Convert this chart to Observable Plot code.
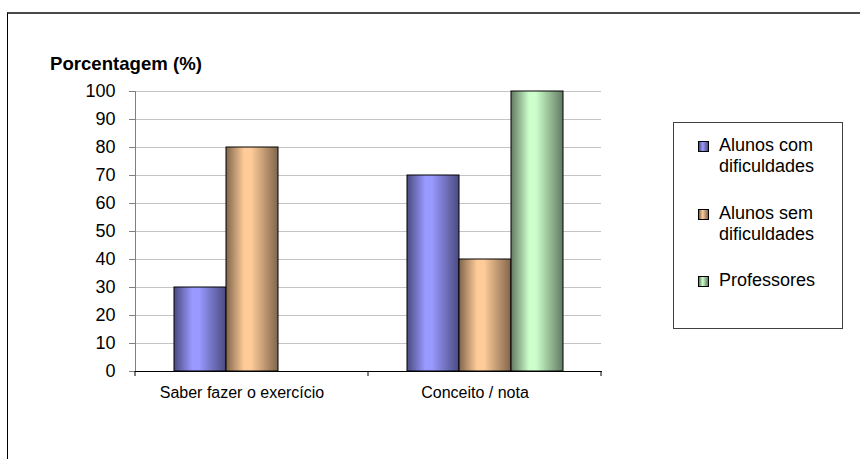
<!DOCTYPE html>
<html>
<head>
<meta charset="utf-8">
<script src="https://cdn.jsdelivr.net/npm/d3@7"></script>
<script src="https://cdn.jsdelivr.net/npm/@observablehq/plot@0.6"></script>
<style>
  html, body { margin: 0; padding: 0; background: #fff; }
  #wrap { position: relative; width: 860px; height: 459px; overflow: hidden; font-family: "Liberation Sans", Arial, sans-serif; color: #000; }
  #frame { position: absolute; left: 7px; top: 12px; width: 1000px; height: 600px; border-top: 2px solid #4a4a4a; border-left: 1px solid #000; box-sizing: border-box; }
  #title { position: absolute; left: 50px; top: 55px; font-size: 18.6px; line-height: 18px; font-weight: bold; white-space: nowrap; }
  #chart { position: absolute; left: 0; top: 0; }
  #legend { position: absolute; left: 673px; top: 122px; width: 170px; height: 207px; border: 1px solid #404040; box-sizing: border-box; background: #fff; }
  .item { position: absolute; left: 0; font-size: 18px; line-height: 21px; }
  .sw { position: absolute; width: 9px; height: 9px; border: 1px solid #000; box-sizing: content-box; }
  .txt { position: absolute; white-space: nowrap; }
</style>
</head>
<body>
<div id="wrap">
  <div id="frame"></div>
  <div id="chart"></div>
  <div id="title">Porcentagem (%)</div>
  <div id="legend"></div>
</div>
<script>
// ---- data ----
const categories = ["Saber fazer o exercício", "Conceito / nota"];
const series = ["Alunos com dificuldades", "Alunos sem dificuldades", "Professores"];
const legendLines = [["Alunos com", "dificuldades"], ["Alunos sem", "dificuldades"], ["Professores"]];
const alunosCom = [30, 70];
const alunosSem = [80, 40];
const professores = [0, 100];
const yTicks = [0, 10, 20, 30, 40, 50, 60, 70, 80, 90, 100];

// ---- styles ----
const lightColors = ["#9999ff", "#ffcc99", "#ccffcc"];
const darkColors = ["#4a4a80", "#80654b", "#627a62"];
const gradIds = ["gBlue", "gOrange", "gGreen"];

const seriesValues = [alunosCom, alunosSem, professores];
const data = categories.flatMap((c, i) =>
  series.map((s, j) => ({category: c, series: s, value: seriesValues[j][i]}))
);

const chart = Plot.plot({
  width: 860,
  height: 459,
  marginLeft: 135,
  marginRight: 259,
  marginTop: 91,
  marginBottom: 88,
  style: {fontFamily: '"Liberation Sans", Arial, sans-serif', background: "transparent", color: "#000"},
  fx: {domain: categories, padding: 0, label: null},
  x: {domain: series, paddingInner: 0, paddingOuter: 0.74, axis: null},
  y: {domain: [0, 100], label: null},
  color: {domain: series, range: gradIds.map(id => `url(#${id})`)},
  marks: [
    Plot.ruleY(yTicks.filter(t => t > 0), {y: d => d, stroke: "#c4c4c4", strokeWidth: 1}),
    Plot.barY(data, {fx: "category", x: "series", y: "value", fill: "series", stroke: "#000", strokeWidth: 1}),
    Plot.frame({anchor: "left", facetAnchor: "left", stroke: "#808080"}),
    Plot.frame({anchor: "bottom", stroke: "#000"}),
    Plot.axisY({ticks: yTicks, tickSize: 6, tickPadding: 14, fontSize: 18, stroke: "#808080", fill: "#000", label: null}),
    Plot.axisFx({anchor: "bottom", tickSize: 0, tickPadding: 15, fontSize: 16, dx: -10, label: null, fill: "#000"})
  ]
});

// gradients
const svg = d3.select(chart);
const defs = svg.insert("defs", ":first-child");
gradIds.forEach((id, i) => {
  const g = defs.append("linearGradient").attr("id", id).attr("x1", 0).attr("x2", 1).attr("y1", 0).attr("y2", 0);
  g.append("stop").attr("offset", "0%").attr("stop-color", darkColors[i]);
  g.append("stop").attr("offset", "35%").attr("stop-color", lightColors[i]);
  g.append("stop").attr("offset", "48%").attr("stop-color", lightColors[i]);
  g.append("stop").attr("offset", "100%").attr("stop-color", darkColors[i]);
});

// category boundary ticks via the library's fx and y scales
const fx = chart.scale("fx");
const ys = chart.scale("y");
const y0 = ys.apply(0);
const edges = categories.map(c => fx.apply(c)).concat([fx.apply(categories[categories.length - 1]) + fx.bandwidth]);
svg.append("g").selectAll("line").data(edges).join("line")
  .attr("x1", d => d).attr("x2", d => d)
  .attr("y1", y0).attr("y2", y0 + 5)
  .attr("stroke", "#000");

document.getElementById("chart").appendChild(chart);

// legend
const legend = d3.select("#legend");
const itemTops = [12, 80, 147];
series.forEach((s, i) => {
  const it = legend.append("div").attr("class", "item").style("top", itemTops[i] + "px");
  it.append("div").attr("class", "sw")
    .style("left", "24px").style("top", "6px")
    .style("background", `linear-gradient(to right, ${darkColors[i]}, ${lightColors[i]} 40%, ${darkColors[i]})`);
  it.append("div").attr("class", "txt").style("left", "45px").style("top", "0px")
    .html(legendLines[i].join("<br>"));
});
</script>
</body>
</html>
